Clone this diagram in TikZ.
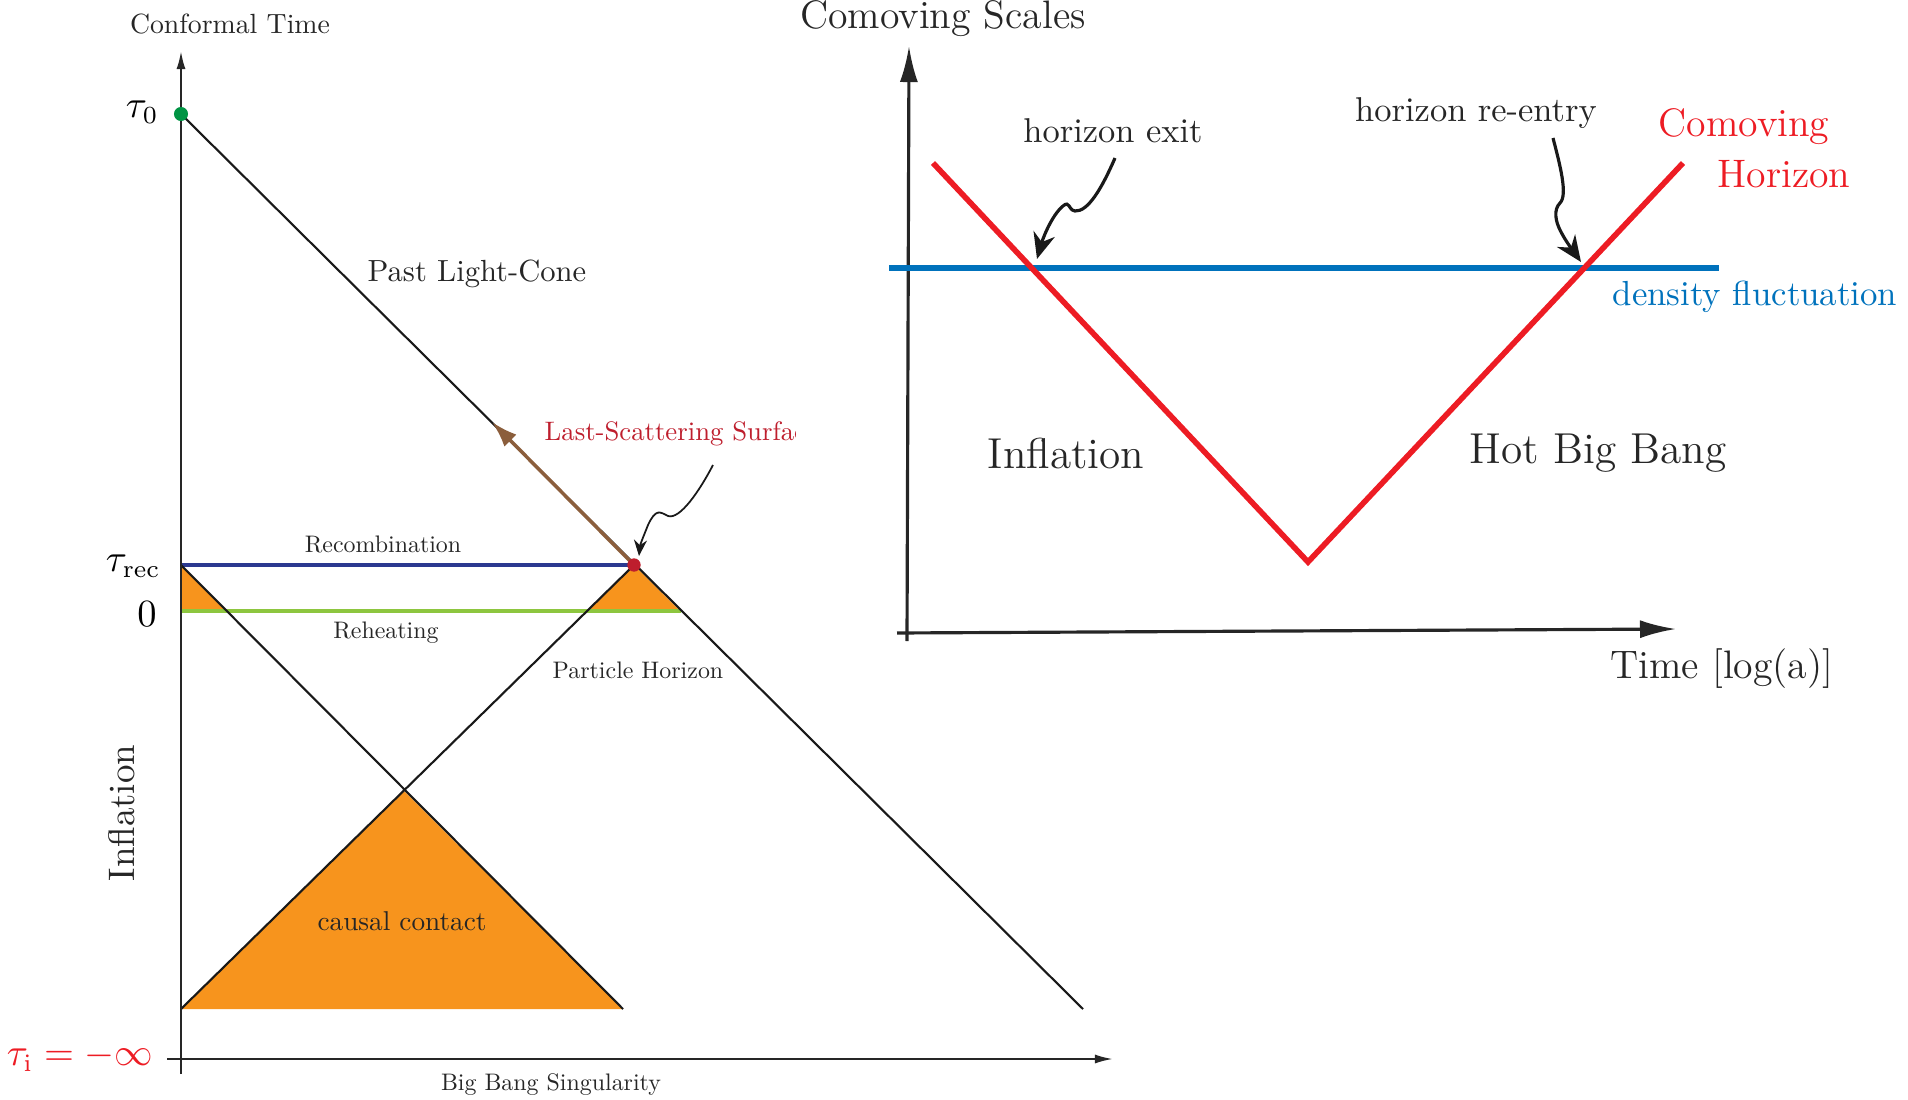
\documentclass[tikz,border=0pt]{standalone}
\usepackage{xcolor}
\usepackage{amsmath}
\usepackage{graphicx}
\usepackage{tikz}
\usetikzlibrary{arrows.meta, positioning, calc}
\definecolor{causalorange}{RGB}{247,148,29}
\definecolor{recblue}{RGB}{43,57,144}
\definecolor{reheatgreen}{RGB}{141,198,63}
\definecolor{lssred}{RGB}{190,30,45}
\definecolor{nowgreen}{RGB}{0,148,68}
\definecolor{photonbrown}{RGB}{139,94,60}
\definecolor{horizonred}{RGB}{237,28,36}
\definecolor{modeblue}{RGB}{0,114,188}

\begin{document}
\begin{tikzpicture}[
    x=0.01cm, y=-0.01cm,
    axis/.style={-{Latex[length=1.8mm, width=0.9mm]}, line width=0.6pt, black!85},
    bigaxis/.style={-{Latex[length=3.6mm, width=1.8mm]}, line width=0.9pt, black!85},
    cone/.style={line width=0.6pt, black!90},
    epoch/.style={line width=1.3pt},
    wiggle/.style={-{Stealth[length=2.6mm, width=2.2mm]}, line width=0.9pt, black!90},
    smallwiggle/.style={-{Stealth[length=1.6mm, width=1.3mm]}, line width=0.5pt, black!90},
    tiny/.style={font=\fontsize{10}{12}\selectfont, text=black!85},
    mathlabel/.style={font=\fontsize{10.5}{12}\selectfont, anchor=east},
    big/.style={font=\fontsize{11.3}{13}\selectfont, text=black!85},
    huge/.style={font=\fontsize{12.3}{14}\selectfont, text=black!85},
]
\useasboundingbox (0,0) rectangle (1908,1100);

% conformal diagram
\coordinate (tau0) at (181,114);
\coordinate (rec) at (181,565);
\coordinate (lss) at (634,565);
\coordinate (reh) at (181,611);
\coordinate (rehend) at (681,611);
\coordinate (apex) at (404,791);
\coordinate (baseL) at (181,1009);
\coordinate (baseR) at (623,1009);
\coordinate (coneend) at (1083,1009);
\coordinate (photon) at (492,422);

\fill[causalorange] (baseL) -- (apex) -- (baseR) -- cycle;
\fill[causalorange] (rec) -- (reh) -- (227,611) -- cycle;
\fill[causalorange] (lss) -- (588,611) -- (680,611) -- cycle;

\draw[epoch, recblue] (rec) -- (lss);
\draw[epoch, reheatgreen] (reh) -- (rehend);

\draw[cone] (tau0) -- (coneend);
\draw[cone] (rec) -- (baseR);
\draw[cone] (baseL) -- (lss);
\draw[-{Latex[length=2.6mm, width=1.7mm]}, line width=1pt, photonbrown] (lss) -- (photon);

\draw[axis] (181,1074) -- (181,51);
\draw[axis] (167,1059) -- (1113,1059);

\fill[nowgreen] (tau0) circle (2pt);
\fill[lssred] (lss) circle (1.9pt);

\node[tiny] (ctime) at (230,24) {\scalebox{0.79}{Conformal Time}};
\node[mathlabel] (t0) at (171,112) {$\tau_0$};
\node[mathlabel] (trec) at (173,566) {$\tau_{\mathrm{rec}}$};
\node[mathlabel] (zero) at (169,614) {$0$};
\node[mathlabel, anchor=center, text=horizonred] (ti) at (80,1057) {$\tau_{\mathrm{i}} = -\infty$};
\node[tiny] (plc) at (477,274) {\scalebox{0.87}{Past Light-Cone}};
\begin{scope}
  \clip (520,400) rectangle (795,470);
  \node[tiny, text=lssred, anchor=west, inner sep=0pt] (lsslabel) at (544,434) {\scalebox{0.76}{Last-Scattering Surface}};
\end{scope}
\node[tiny] (recl) at (383,544) {\scalebox{0.68}{Recombination}};
\node[tiny] (rehl) at (386,633) {\scalebox{0.68}{Reheating}};
\node[tiny] (phor) at (638,670) {\scalebox{0.68}{Particle Horizon}};
\node[tiny] (bbs) at (551,1085) {\scalebox{0.68}{Big Bang Singularity}};
\node[tiny] (causal) at (402,921) {\scalebox{0.775}{causal contact}};
\node[font=\fontsize{10.5}{12}\selectfont, text=black!85, rotate=90] (infl) at (122,813) {Inflation};

\coordinate (lssarrow) at (713,465);
\draw[smallwiggle] (lssarrow) .. controls (700,490) and (680,520) .. (668,516)
  .. controls (660,512) and (656,508) .. (648,525) .. controls (644,535) and (640,545) .. (639,556);

% comoving scales
\coordinate (ybot) at (907,641);
\coordinate (ytop) at (909,46);
\coordinate (xleft) at (897,633);
\coordinate (xright) at (1676,629);
\coordinate (vl) at (933,163);
\coordinate (vb) at (1308,562);
\coordinate (vr) at (1683,163);
\coordinate (modeL) at (889,268);
\coordinate (modeR) at (1719,268);

\draw[bigaxis] (ybot) -- (ytop);
\draw[bigaxis] (xleft) -- (xright);
\draw[line width=1.6pt, modeblue] (modeL) -- (modeR);
\draw[line width=1.6pt, horizonred] (vl) -- (vb) -- (vr);

\coordinate (exitstart) at (1115,158);
\coordinate (exitend) at (1037,259);
\coordinate (entrystart) at (1553,138);
\coordinate (entryend) at (1581,262);
\draw[wiggle] (exitstart) .. controls (1102,188) and (1088,212) .. (1075,211)
  .. controls (1068,210) and (1070,200) .. (1063,206) .. controls (1052,215) and (1043,238) .. (exitend);
\draw[wiggle] (entrystart) .. controls (1560,165) and (1568,195) .. (1560,203)
  .. controls (1553,210) and (1556,222) .. (1560,230) .. controls (1566,242) and (1574,252) .. (entryend);

\node[big] (cscales) at (943,19) {Comoving Scales};
\node[font=\fontsize{9.8}{11}\selectfont, text=black!85] (hexit) at (1113,131) {horizon exit};
\node[font=\fontsize{9.8}{11}\selectfont, text=black!85] (hentry) at (1476,113) {horizon re-entry};
\node[big, text=horizonred] (chor1) at (1744,127) {Comoving};
\node[big, text=horizonred] (chor2) at (1784,174) {Horizon};
\node[font=\fontsize{9.9}{11}\selectfont, text=modeblue] (dfl) at (1755,297) {density fluctuation};
\node[huge] (infr) at (1066,453) {Inflation};
\node[huge] (hbb) at (1598,453) {Hot Big Bang};
\node[big] (tloga) at (1722,669) {Time [log(a)]};

\end{tikzpicture}
\end{document}
